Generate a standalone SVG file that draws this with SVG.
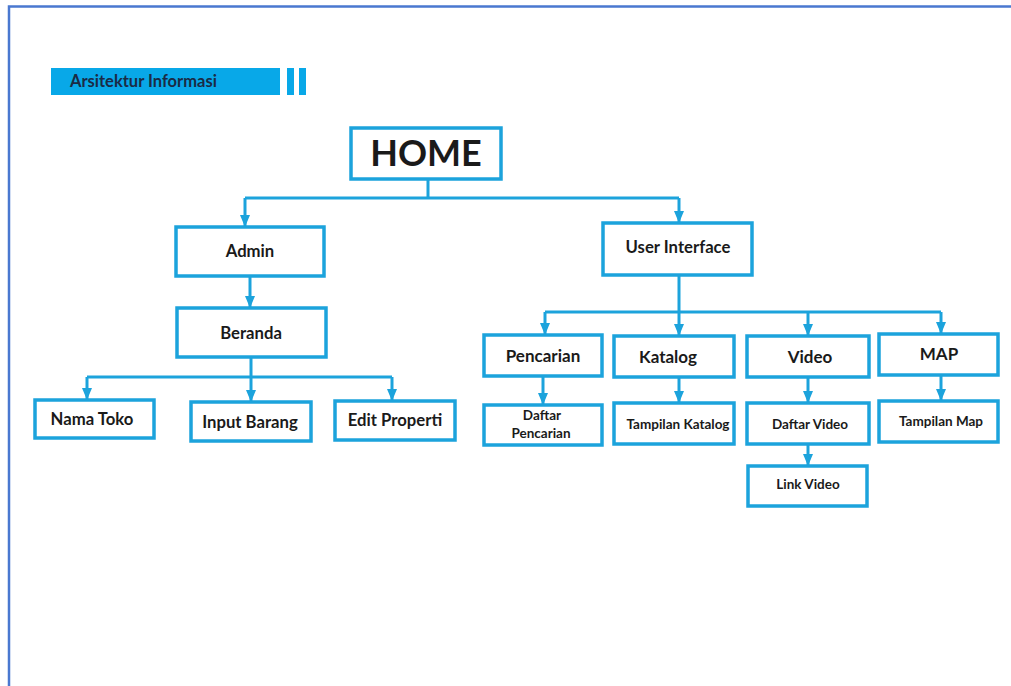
<svg xmlns="http://www.w3.org/2000/svg" width="1011" height="686" viewBox="0 0 1011 686">
<defs>
<style>
.box{fill:#fff;stroke:#1ca3dc;stroke-width:3.5}
.ln{fill:none;stroke:#1ca3dc;stroke-width:3}
.t{font-family:Lato,"Open Sans","Liberation Sans",sans-serif;font-weight:bold;fill:#1a1a1a;text-anchor:middle}
.t15{font-size:16.7px}
.t17{font-size:17px}
.t12{font-size:13.5px}
</style>
<marker id="ah" markerUnits="userSpaceOnUse" markerWidth="12" markerHeight="10" refX="11" refY="5" orient="auto" viewBox="0 0 12 10">
<path d="M0,0 L12,5 L0,10 z" fill="#1ca3dc"/>
</marker>
</defs>
<rect x="0" y="0" width="1011" height="686" fill="#fff"/>
<path d="M9,686 V6.5 H1011" fill="none" stroke="#4a78d0" stroke-width="2.5"/>

<g id="header">
<rect x="51" y="68" width="229" height="27" fill="#08a8e8"/>
<rect x="287" y="68" width="7" height="27" fill="#08a8e8"/>
<rect x="299" y="68" width="7" height="27" fill="#08a8e8"/>
<text x="70" y="87" font-family="Lato,'Open Sans','Liberation Sans',sans-serif" font-weight="bold" font-size="16.5" fill="#1b2b45">Arsitektur Informasi</text>
</g>

<g id="connectors">
<path class="ln" d="M428,179 V198 M245,198 H679"/>
<path class="ln" d="M245,198 V226" marker-end="url(#ah)"/>
<path class="ln" d="M679,198 V222" marker-end="url(#ah)"/>
<path class="ln" d="M250,276 V307" marker-end="url(#ah)"/>
<path class="ln" d="M251,357 V377 M87,377 H392"/>
<path class="ln" d="M87,377 V399" marker-end="url(#ah)"/>
<path class="ln" d="M251,377 V401" marker-end="url(#ah)"/>
<path class="ln" d="M392,377 V400" marker-end="url(#ah)"/>
<path class="ln" d="M679,275 V312 M545,312 H941"/>
<path class="ln" d="M545,312 V334" marker-end="url(#ah)"/>
<path class="ln" d="M679,312 V335" marker-end="url(#ah)"/>
<path class="ln" d="M808,312 V335" marker-end="url(#ah)"/>
<path class="ln" d="M941,312 V333" marker-end="url(#ah)"/>
<path class="ln" d="M543,376 V404" marker-end="url(#ah)"/>
<path class="ln" d="M679,377 V402" marker-end="url(#ah)"/>
<path class="ln" d="M808,377 V402" marker-end="url(#ah)"/>
<path class="ln" d="M941,375 V400" marker-end="url(#ah)"/>
<path class="ln" d="M808,444 V465" marker-end="url(#ah)"/>
</g>

<g id="home">
<rect class="box" x="351" y="128" width="150" height="51"/>
<text class="t" x="426" y="166" font-size="36">HOME</text>
</g>
<g id="admin">
<rect class="box" x="176" y="227" width="148" height="49"/>
<text class="t t15" x="250" y="257">Admin</text>
</g>
<g id="beranda">
<rect class="box" x="177" y="308" width="149" height="49"/>
<text class="t t15" x="251" y="339">Beranda</text>
</g>
<g id="nama-toko">
<rect class="box" x="35" y="400" width="119" height="38"/>
<text class="t t15" x="92" y="425">Nama Toko</text>
</g>
<g id="input-barang">
<rect class="box" x="191" y="402" width="120" height="39"/>
<text class="t t15" x="250" y="428">Input Barang</text>
</g>
<g id="edit-properti">
<rect class="box" x="335" y="401" width="120" height="39"/>
<text class="t t15" x="395" y="426">Edit Properti</text>
</g>
<g id="user-interface">
<rect class="box" x="603" y="223" width="149" height="52"/>
<text class="t t15" x="678" y="253">User Interface</text>
</g>
<g id="pencarian">
<rect class="box" x="484" y="335" width="118" height="41"/>
<text class="t t17" x="543" y="362">Pencarian</text>
</g>
<g id="katalog">
<rect class="box" x="614" y="336" width="120" height="41"/>
<text class="t t17" x="668" y="363">Katalog</text>
</g>
<g id="video">
<rect class="box" x="747" y="336" width="122" height="41"/>
<text class="t t17" x="810" y="363">Video</text>
</g>
<g id="map">
<rect class="box" x="879" y="334" width="119" height="41"/>
<text class="t t17" x="939" y="360">MAP</text>
</g>
<g id="daftar-pencarian">
<rect class="box" x="484" y="405" width="118" height="40"/>
<text class="t t12" x="542" y="420">Daftar</text>
<text class="t t12" x="541" y="438">Pencarian</text>
</g>
<g id="tampilan-katalog">
<rect class="box" x="614" y="403" width="120" height="41"/>
<text class="t t12" x="678" y="429">Tampilan Katalog</text>
</g>
<g id="daftar-video">
<rect class="box" x="747" y="403" width="122" height="41"/>
<text class="t t12" x="810" y="429">Daftar Video</text>
</g>
<g id="tampilan-map">
<rect class="box" x="879" y="401" width="119" height="41"/>
<text class="t t12" x="941" y="426">Tampilan Map</text>
</g>
<g id="link-video">
<rect class="box" x="748" y="466" width="119" height="40"/>
<text class="t t12" x="808" y="489">Link Video</text>
</g>
</svg>
